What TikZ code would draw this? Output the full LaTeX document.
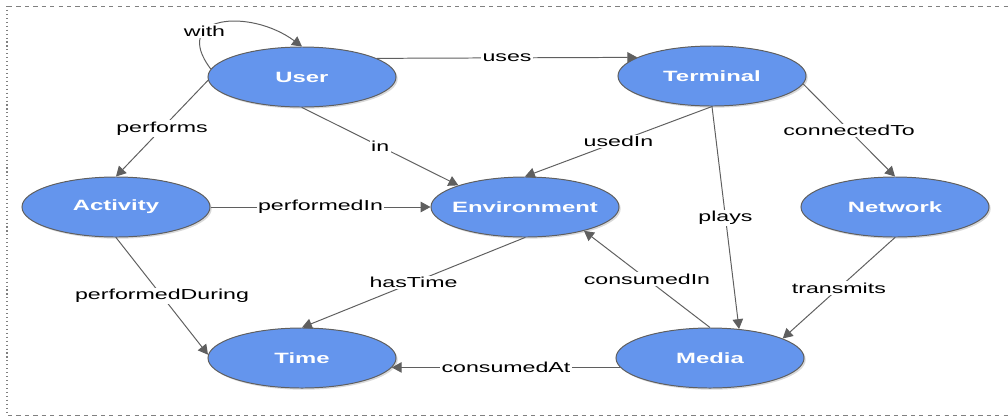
\documentclass[tikz,border=0pt]{standalone}
\usepackage{fontspec}
\setmainfont{Liberation Sans}[FakeStretch=1.6]
\usepackage{tikz}
\usetikzlibrary{arrows.meta,shapes.geometric,shadows}
\definecolor{conceptblue}{RGB}{100,149,237}
\definecolor{edgegray}{RGB}{95,95,95}

\begin{document}
\begin{tikzpicture}[x=0.025cm,y=-0.025cm,
  concept/.style={ellipse,draw=edgegray,line width=0.7pt,fill=conceptblue,
    minimum width=4.7cm,minimum height=1.5cm,inner xsep=-0.5cm,inner ysep=0pt,text=white,
    font=\fontsize{10.6pt}{12pt}\selectfont\bfseries,
    drop shadow={opacity=0.3,shadow xshift=1.2pt,shadow yshift=-1.2pt}},
  rel/.style={fill=white,inner sep=1pt,text=black,
    font=\fontsize{10.3pt}{12pt}\selectfont},
  every edge/.style={draw=edgegray,line width=0.7pt}]
  \useasboundingbox (0,0) rectangle (1008,417);
  \draw[gray,dashed] (8,6) -- (1008,6);
  \draw[gray,dashed] (8,415) -- (1008,415);
  \draw[gray,dotted,line width=0.8pt] (7,6) -- (7,415);

  \node[concept] (user) at (302,77) {User};
  \node[concept] (terminal) at (712,76) {Terminal};
  \node[concept] (activity) at (116,207) {Activity};
  \node[concept] (environment) at (525,207) {Environment};
  \node[concept] (network) at (895,207) {Network};
  \node[concept] (time) at (302,358) {Time};
  \node[concept] (media) at (710,358) {Media};

  \draw[edgegray,line width=0.7pt,-{Triangle[length=7pt,width=7.5pt]}]
    (user.175) .. controls (170,15) and (250,8) .. node[rel,pos=0.33] {with} (user.north);
  \path[-{Triangle[length=7pt,width=7.5pt]}]
    (user.14) edge node[rel] {uses} (terminal.166)
    (user.182) edge node[rel] {performs} (activity.north)
    (user.south) edge node[rel] {in} (environment.162)
    (activity.east) edge node[rel] {performedIn} (environment.west)
    (terminal.south) edge node[rel] {usedIn} (environment.north)
    (terminal.south) edge node[rel] {plays} (media.45)
    (terminal.355) edge node[rel] {connectedTo} (network.north)
    (network.south) edge node[rel] {transmits} (media.15)
    (media.north) edge node[rel] {consumedIn} (environment.338)
    (environment.south) edge node[rel] {hasTime} (time.north)
    (activity.south) edge node[rel] {performedDuring} (time.178)
    (media.186) edge node[rel] {consumedAt} (time.354);
\end{tikzpicture}
\end{document}
